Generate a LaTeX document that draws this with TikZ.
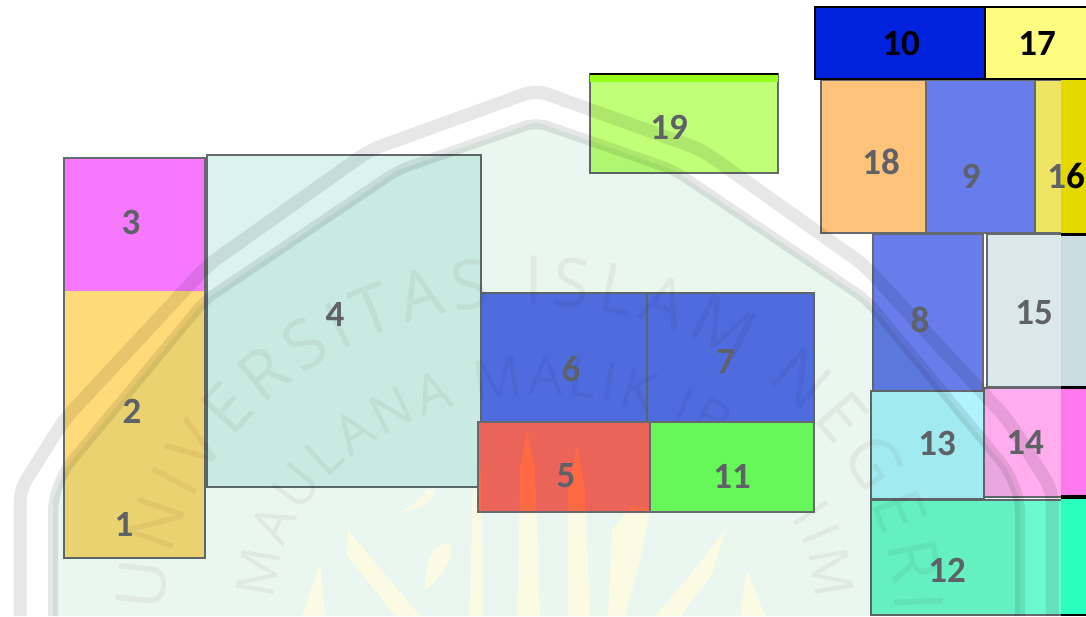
\documentclass[tikz,border=0pt]{standalone}
\usepackage{fontspec}
\usepackage{xcolor}
\usetikzlibrary{decorations.text}
\newfontfamily\angkafont{Carlito}
\newfontfamily\wmfont{Open Sans}
\definecolor{garis}{HTML}{666A6E}
\definecolor{angka}{HTML}{5E6266}
\definecolor{lataran}{HTML}{EAF6F0}
\definecolor{pita}{HTML}{E7E7E7}
\definecolor{huruf}{HTML}{F6F2F2}
\definecolor{kaligrafi}{HTML}{FBFBE4}
\definecolor{kaligrafimerah}{HTML}{FF6A45}
\newcommand{\goresan}{
  (527,430) -- (520,470) -- (518,616) -- (540,616) -- (535,470) -- cycle
  (577,445) -- (568,490) -- (568,616) -- (590,616) -- (585,490) -- cycle
  (473,470) -- (470,616) -- (483,616) -- (481,470) -- cycle
  (348,530) -- (347,555) -- (395,616) -- (420,616) -- cycle
  (320,563) -- (302,616) -- (325,616) -- cycle
  (725,530) -- (690,575) -- (655,616) -- (680,616) -- (712,575) -- cycle
  (747,570) -- (740,616) -- (765,616) -- cycle
  (632,505) -- (612,530) -- (608,616) -- (625,616) -- (640,560) -- (650,510) -- cycle
  (400,512) .. controls (430,510) and (440,490) .. (432,480) .. controls (425,495) and (415,505) .. (400,512) -- cycle
  (425,590) .. controls (450,570) and (455,550) .. (448,543) .. controls (430,545) and (425,565) .. (425,590) -- cycle
}
\tikzset{
  blok/.style={draw=garis, line width=1.8pt},
  blokhitam/.style={draw=black, line width=1.8pt},
  angkanode/.style={font=\angkafont\bfseries\fontsize{37}{37}\selectfont, text=angka, inner sep=0pt},
  angkahitam/.style={angkanode, text=black}
}
\begin{document}
\begin{tikzpicture}[x=1pt,y=-1pt]
\useasboundingbox (0,0) rectangle (1086,616);
% Left column
\fill[fill={rgb,255:red,255;green,218;blue,120}] (64,291) rectangle (205,558);
\fill[fill={rgb,255:red,245;green,120;blue,254}] (64,158) rectangle (205,291);
\draw[blok] (64,158) rectangle (205,558);
\draw[blok, fill={rgb,255:red,218;green,243;blue,238}] (207,155) rectangle (481,487);
% Middle boxes
\draw[blok, fill={rgb,255:red,86;green,112;blue,236}] (481,293) rectangle (647,422);
\draw[blok, fill={rgb,255:red,86;green,112;blue,236}] (647,293) rectangle (814,422);
\draw[blok, fill={rgb,255:red,192;green,255;blue,120}] (590,74) rectangle (778,173);
% Right boxes
\draw[blok, fill={rgb,255:red,255;green,194;blue,122}] (821,80) rectangle (926,233);
\draw[blok, fill={rgb,255:red,102;green,125;blue,235}] (926,80) rectangle (1035,233);
\draw[blok, fill={rgb,255:red,239;green,229;blue,101}] (1035,80) rectangle (1090,233);
\draw[blok, fill={rgb,255:red,102;green,125;blue,235}] (873,234) rectangle (983,391);
\draw[blok, fill={rgb,255:red,220;green,231;blue,234}] (987,234) rectangle (1090,387);
\draw[blok, fill={rgb,255:red,176;green,243;blue,255}] (871,391) rectangle (984,499);
\draw[blok, fill={rgb,255:red,255;green,173;blue,238}] (984,388) rectangle (1090,497);
\draw[blok, fill={rgb,255:red,109;green,249;blue,206}] (871,500) rectangle (1090,615);
% Watermark over the boxes
\begin{scope}[blend mode=multiply]
\clip (0,0) rectangle (1061,616);
\fill[lataran] (53,616) -- (53,500) -- (64,470) -- (205,300) -- (398,170) -- (536,122) -- (674,170) -- (867,300) -- (1008,470) -- (1020,500) -- (1020,616) -- cycle;
\draw[pita, line width=13pt, rounded corners=12pt] (20,616) -- (20,490) -- (64,420) -- (208,265) -- (370,150) -- (536,90) -- (702,150) -- (864,265) -- (1008,420) -- (1052,490) -- (1052,616);
\draw[pita, line width=10pt, rounded corners=12pt] (53,616) -- (53,500) -- (64,470) -- (205,300) -- (398,170) -- (536,122) -- (674,170) -- (867,300) -- (1008,470) -- (1020,500) -- (1020,616);
\path[decorate, decoration={text along path, text align={fit to path}, text={|\wmfont\fontsize{68}{68}\selectfont\color{huruf}|UNIVERSITAS ISLAM NEGERI}}]
  (165,612) .. controls (165,450) and (330,305) .. (530,305) .. controls (730,305) and (895,450) .. (895,612);
\path[decorate, decoration={text along path, text align={fit to path}, text={|\wmfont\fontsize{54}{54}\selectfont\color{huruf}|MAULANA MALIK IBRAHIM}}]
  (275,600) .. controls (275,490) and (395,395) .. (540,395) .. controls (690,395) and (815,490) .. (815,600);
\end{scope}
% Calligraphy below the middle boxes
\begin{scope}
\clip (207,489) rectangle (871,616);
\fill[kaligrafi] \goresan;
\end{scope}
% Boxes 5 and 11
\fill[fill={rgb,255:red,235;green,100;blue,89}] (478,422) rectangle (650,512);
\begin{scope}
\clip (478,422) rectangle (650,512);
\fill[kaligrafimerah] \goresan;
\end{scope}
\draw[blok] (478,422) rectangle (650,512);
\draw[blok, fill={rgb,255:red,102;green,247;blue,88}] (650,422) rectangle (814,512);
% Band on top of box 19
\fill[fill={rgb,255:red,149;green,255;blue,30}] (590,74) rectangle (778,82);
\draw[draw=black, line width=1.8pt] (590,74) -- (778,74);
% Strip on the right, not washed out
\fill[fill={rgb,255:red,227;green,216;blue,0}] (1061,80) rectangle (1086,233);
\fill[fill={rgb,255:red,201;green,220;blue,224}] (1061,234) rectangle (1086,387);
\fill[fill={rgb,255:red,255;green,120;blue,236}] (1061,388) rectangle (1086,497);
\fill[fill={rgb,255:red,43;green,255;blue,192}] (1061,497) rectangle (1086,616);
\draw[draw=black, line width=3pt] (1061,234) -- (1086,234);
\draw[draw=black, line width=3pt] (1061,387) -- (1086,387);
\draw[draw=black, line width=4pt] (1061,497) -- (1086,497);
\draw[draw=black, line width=1.8pt] (1061,615) -- (1086,615);
% Top row
\draw[blokhitam, fill={rgb,255:red,0;green,34;blue,221}] (815,7) rectangle (985,79);
\draw[blokhitam, fill={rgb,255:red,255;green,253;blue,128}] (985,7) rectangle (1090,79);
% Numbers
\node[angkanode] (n1) at (124,524) {1};
\node[angkanode] (n2) at (132,411) {2};
\node[angkanode] (n3) at (131,222) {3};
\node[angkanode] (n4) at (335,314) {4};
\node[angkanode] (n5) at (566,476) {5};
\node[angkanode] (n6) at (571,369) {6};
\node[angkanode] (n7) at (726,361) {7};
\node[angkanode] (n8) at (920,320) {8};
\node[angkanode] (n9) at (971,176) {9};
\node[angkahitam] (n10) at (901,43) {10};
\node[angkanode] (n11) at (732,476) {11};
\node[angkanode] (n12) at (947,570) {12};
\node[angkanode] (n13) at (937,443) {13};
\node[angkanode] (n14) at (1025,442) {14};
\node[angkanode] (n15) at (1034,313) {15};
\node[angkanode] (n16) at (1066,176) {1\textcolor{black}{6}};
\node[angkahitam] (n17) at (1037,43) {17};
\node[angkanode] (n18) at (881,162) {18};
\node[angkanode] (n19) at (669,127) {19};
\end{tikzpicture}
\end{document}
